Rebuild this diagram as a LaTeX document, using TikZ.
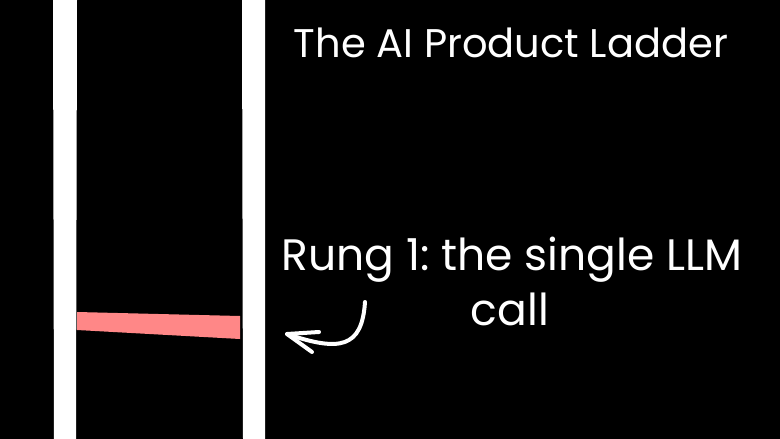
\documentclass[tikz,border=0pt]{standalone}
\usepackage{fontspec}
\setmainfont{Poppins}
\frenchspacing
\definecolor{rungpink}{HTML}{FF8787}
\begin{document}
\begin{tikzpicture}[x=1pt,y=-1pt,
  rail/.style={fill=white,draw=none},
  label/.style={text=white,inner sep=0pt,anchor=base,font=\fontsize{44}{50}\selectfont},
  pointer/.style={draw=white,line width=4pt,line cap=round,line join=round}]
\fill[black] (0,0) rectangle (780,439);
\useasboundingbox (0,0) rectangle (780,439);
% rails
\fill[rail] (53,0) -- (77,0) -- (76,439) -- (54,439) -- cycle;
\fill[rail] (242,0) -- (265,0) -- (265,439) -- (243,439) -- cycle;
% rung
\fill[rungpink] (77,312) -- (240,316) -- (240,339) -- (77,330) -- cycle;
% texts
\node[label,font=\fontsize{40}{46}\selectfont] (title) at (511,57) {The AI Product Ladder};
\node[label] (rung) at (512,270) {Rung 1: the single LLM};
\node[label] (rung2) at (510,325) {call};
% arrow
\coordinate (a0) at (365,302);
\coordinate (a1) at (287,334);
\draw[pointer] (a0) .. controls (362,348) and (340,352) .. (a1);
\draw[pointer] (319,332) -- (a1) -- (312,352);
\end{tikzpicture}
\end{document}
